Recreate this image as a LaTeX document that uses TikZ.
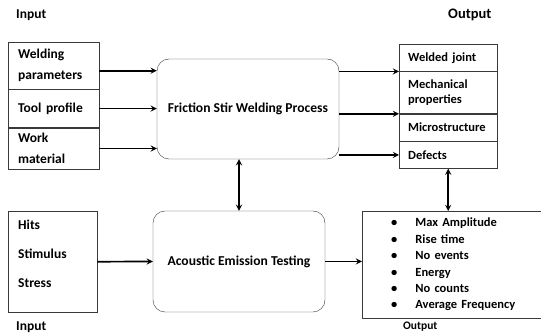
\documentclass[tikz,border=0pt]{standalone}
\usepackage{fontspec}
\setmainfont{Carlito}
\usetikzlibrary{positioning}
\usetikzlibrary{arrows}
\definecolor{edge}{HTML}{3a3a3a}
\tikzstyle{headtext} = [anchor=west, inner sep=0pt, font=\bfseries\fontsize{13.5}{15}\selectfont]
\tikzstyle{inbox} = [rectangle, draw=edge, anchor=north west, minimum width=91pt, text width=71pt, inner xsep=10pt, align=left, font=\bfseries\fontsize{13.5}{21}\selectfont]
\tikzstyle{outbox} = [rectangle, draw=edge, anchor=north west, minimum width=98pt, text width=80pt, inner xsep=9pt, align=left, font=\bfseries\fontsize{12.5}{15}\selectfont]
\tikzstyle{process} = [rectangle, rounded corners=12pt, draw=edge, text centered, font=\bfseries\fontsize{13.6}{15}\selectfont]
\tikzstyle{arrow} = [line width=1.7pt,->,>=stealth]
\tikzstyle{dblarrow} = [line width=1.7pt,<->,>=stealth]

\begin{document}
\begin{tikzpicture}[x=1pt, y=-1pt, node distance=0pt]
    \useasboundingbox (0,0) rectangle (541,336);
    \node (intop) [headtext] at (16,15) {Input};
    \node (outtop) [headtext, font=\bfseries\fontsize{14.5}{15}\selectfont] at (448,15) {Output};
    \node (inbot) [headtext] at (16,327) {Input};
    \node (outbot) [headtext, font=\bfseries\fontsize{11.5}{15}\selectfont] at (403,327) {Output};

    \node (wparam) [inbox, minimum height=47pt] at (8,42) {Welding\\parameters};
    \node (tprofile) [inbox, minimum height=38pt, below=of wparam] {Tool profile};
    \node (wmaterial) [inbox, minimum height=41pt, below=of tprofile] {Work\\material};

    \node (fsw) [process, minimum width=182pt, minimum height=100pt] at (248,109) {Friction Stir Welding Process};

    \node (wjoint) [outbox, minimum height=27pt] at (399,44) {Welded joint};
    \node (mech) [outbox, minimum height=42pt, below=of wjoint] {Mechanical\\properties};
    \node (micro) [outbox, minimum height=27pt, below=of mech] {Microstructure};
    \node (defects) [outbox, minimum height=27pt, below=of micro] {Defects};

    \node (aein) [inbox, minimum width=89pt, text width=69pt, minimum height=101pt, font=\bfseries\fontsize{13.5}{29}\selectfont] at (8,211) {Hits\\Stimulus\\Stress\\[-14pt]\mbox{}};
    \node (aet) [process, minimum width=172pt, minimum height=101pt] at (239,261.5) {Acoustic Emission Testing};
    \node (aeout) [outbox, minimum height=107pt, text width=180pt, inner xsep=10pt, font=\bfseries\fontsize{12.5}{16.4}\selectfont] at (362,211)
        {\hspace*{19pt}\begin{tabular}{@{}l@{\hspace{18pt}}l@{}}
        \textbullet & Max Amplitude\\
        \textbullet & Rise time\\
        \textbullet & No events\\
        \textbullet & Energy\\
        \textbullet & No counts\\
        \textbullet & Average Frequency
        \end{tabular}};

    \draw[arrow] ([yshift=-5pt]wparam.east) -- ([yshift=-5pt]wparam.east -| fsw.west);
    \draw[arrow] (tprofile.east) -- (tprofile.east -| fsw.west);
    \draw[arrow] (wmaterial.east) -- (wmaterial.east -| fsw.west);
    \draw[arrow] (fsw.east |- wjoint.south) -- (wjoint.south west);
    \draw[arrow] (fsw.east |- mech.south) -- (mech.south west);
    \draw[arrow] (fsw.east |- defects.west) -- (defects.west);
    \draw[dblarrow] (aet.north |- fsw.south) -- (aet.north);
    \draw[dblarrow] (defects.south) -- (defects.south |- aeout.north);
    \draw[arrow] (aein.east) -- (aet.west);
    \draw[arrow] (aet.east) -- (aet.east -| aeout.west);
\end{tikzpicture}
\end{document}
